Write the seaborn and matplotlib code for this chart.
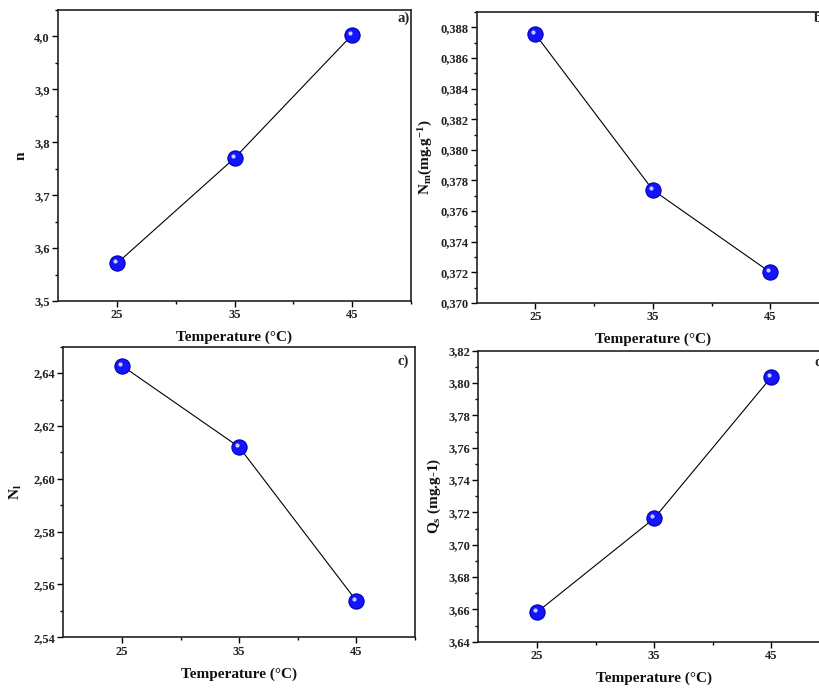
import matplotlib
matplotlib.use("Agg")
import matplotlib.pyplot as plt
import matplotlib.transforms as mtransforms
from matplotlib.ticker import MultipleLocator, FuncFormatter, FixedLocator
import seaborn as sns
import pandas as pd

sns.set_theme(style="ticks")
plt.rcParams['font.family'] = ['Liberation Serif', 'DejaVu Serif']
plt.rcParams['font.weight'] = 'bold'
plt.rcParams['mathtext.fontset'] = 'custom'
plt.rcParams['mathtext.rm'] = 'Liberation Serif:bold'
plt.rcParams['mathtext.it'] = 'Liberation Serif:bold'
plt.rcParams['mathtext.bf'] = 'Liberation Serif:bold'

temperature = [25, 35, 45]
n_values = [3.571, 3.770, 4.003]
nm_values = [0.38754, 0.37738, 0.37200]
nl_values = [2.6428, 2.612, 2.5538]
qs_values = [3.6582, 3.7163, 3.8037]

xlabel = "Temperature (°C)"
ylabels = ["n", r"N$_{m}$(mg.g$^{-1}$)", r"N$_{l}$", r"Q$_{s}$ (mg.g-1)"]
panel_tags = ["a)", "b)", "c)", "d)"]
ylims = [(3.5, 4.05), (0.370, 0.389), (2.54, 2.65), (3.64, 3.82)]
ymajor = [0.1, 0.002, 0.02, 0.02]
ydec = [1, 3, 2, 2]
series = [n_values, nm_values, nl_values, qs_values]

W, H = 819, 689
fig = plt.figure(figsize=(W / 100, H / 100), dpi=100)
fig.patch.set_facecolor('white')

# axes boxes in pixels: left, top, right, bottom
boxes = [(58, 10, 411, 301), (476.7, 12, 829, 303),
         (63.3, 346.7, 415, 637.3), (478.3, 350.7, 830, 641.7)]
ylab_right = [28, 435, 24, 443]
tag_pos = [(397, 12), (814, 12), (397, 355), (814, 356)]

for i in range(4):
    l, t, r, b = boxes[i]
    ax = fig.add_axes([l / W, (H - b) / H, (r - l) / W, (b - t) / H])
    ax.set_facecolor('white')
    df = pd.DataFrame({"T": temperature, "v": series[i]})
    sns.lineplot(data=df, x="T", y="v", ax=ax, color='black', lw=0.8, zorder=2)
    sns.scatterplot(data=df, x="T", y="v", ax=ax, s=120, color='#1414ff',
                    edgecolor='#0000b0', linewidth=0.8, zorder=3)
    hl = mtransforms.offset_copy(ax.transData, fig=fig, x=-2, y=2, units='dots')
    ax.scatter(df["T"], df["v"], s=9, color='#c8d0ff', transform=hl, zorder=4,
               linewidths=0)
    ax.set_xlim(20, 50)
    ax.set_ylim(*ylims[i])
    ax.xaxis.set_major_locator(FixedLocator(temperature))
    ax.xaxis.set_minor_locator(FixedLocator([30, 40, 50]))
    ax.yaxis.set_major_locator(MultipleLocator(ymajor[i]))
    ax.yaxis.set_minor_locator(MultipleLocator(ymajor[i] / 2))
    d = ydec[i]
    ax.yaxis.set_major_formatter(FuncFormatter(lambda v, p, d=d: f"{v:.{d}f}".replace('.', ',')))
    ax.tick_params(which='major', direction='out', length=4, width=1, labelsize=9,
                   color='black', labelcolor='#222222', pad=2)
    ax.tick_params(which='minor', direction='out', length=2, width=1, color='black')
    for lab in ax.get_xticklabels() + ax.get_yticklabels():
        lab.set_fontweight('bold')
    for s in ax.spines.values():
        s.set_color('#222222')
        s.set_linewidth(1.2)
        s.set_visible(True)
    ax.set_xlabel(xlabel, fontsize=11, fontweight='bold', color='#111111')
    ax.set_ylabel(ylabels[i], fontsize=11, fontweight='bold', color='#111111')
    ax.xaxis.set_label_coords(0.5, -30 / (b - t))
    ax.yaxis.set_label_coords((ylab_right[i] - l) / (r - l), 0.5)
    tx, ty = tag_pos[i]
    fig.text(tx / W, 1 - ty / H, panel_tags[i], ha='left', va='top',
             fontsize=10.5, fontweight='bold')

fig.savefig("out.png", dpi=100, facecolor='white')
